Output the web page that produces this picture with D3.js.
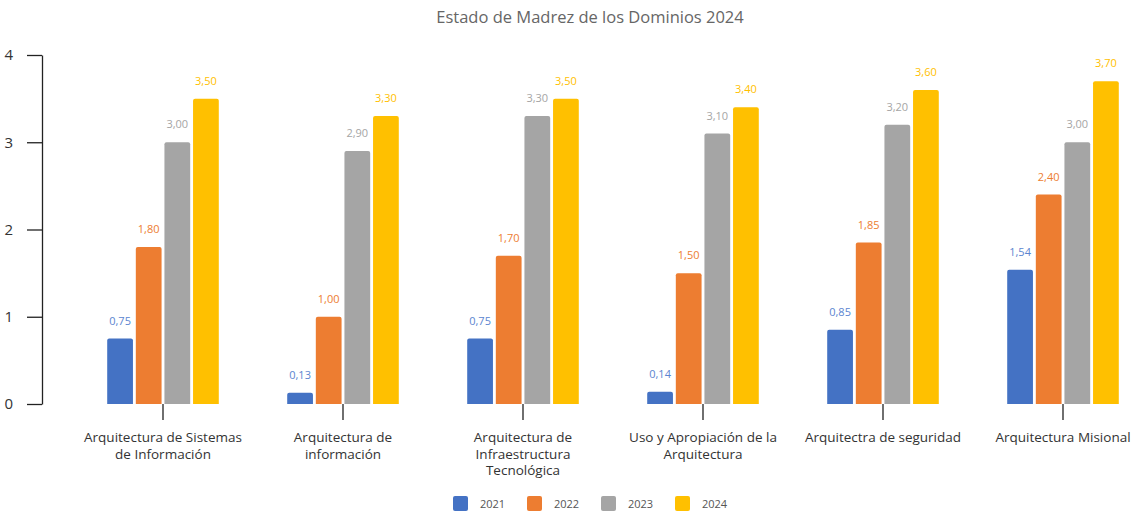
<!DOCTYPE html>
<html>
<head>
<meta charset="utf-8">
<script src="https://cdn.jsdelivr.net/npm/d3@7"></script>
<style>
  body { margin: 0; background: #fff; }
  svg { font-family: "Open Sans", "Noto Sans", sans-serif; }
</style>
</head>
<body>
<div id="chart"></div>
<script>
const categories = [
    ["Arquitectura de Sistemas", "de Información"],
    ["Arquitectura de", "información"],
    ["Arquitectura de", "Infraestructura", "Tecnológica"],
    ["Uso y Apropiación de la", "Arquitectura"],
    ["Arquitectra de seguridad"],
    ["Arquitectura Misional"]
];
const years = ["2021", "2022", "2023", "2024"];
const values2021 = [0.75, 0.13, 0.75, 0.14, 0.85, 1.54];
const values2022 = [1.80, 1.00, 1.70, 1.50, 1.85, 2.40];
const values2023 = [3.00, 2.90, 3.30, 3.10, 3.20, 3.00];
const values2024 = [3.50, 3.30, 3.50, 3.40, 3.60, 3.70];
const yTicks = [0, 1, 2, 3, 4];

const series = [values2021, values2022, values2023, values2024];
const colors = ["#4472C4", "#ED7D31", "#A5A5A5", "#FFC000"];
const labelColors = ["#5B85D0", "#ED7D31", "#A5A5A5", "#FFC000"];

const width = 1140, height = 513;
const catIds = categories.map((c, i) => i);

const svg = d3.select("#chart")
    .append("svg")
    .attr("width", width)
    .attr("height", height);

const x0 = d3.scaleBand()
    .domain(catIds)
    .range([73, 1153])
    .paddingInner(0.38)
    .paddingOuter(0.19);

const x1 = d3.scaleBand()
    .domain(years)
    .range([0, x0.bandwidth()])
    .paddingInner(0.1);

const y = d3.scaleLinear()
    .domain([0, 4])
    .range([404, 55]);

// title
svg.append("text")
    .attr("x", 590)
    .attr("y", 23)
    .attr("text-anchor", "middle")
    .attr("fill", "#666")
    .style("font-size", "16.5px")
    .text("Estado de Madrez de los Dominios 2024");

// y axis
const yAxis = svg.append("g")
    .attr("transform", "translate(42,0)")
    .call(d3.axisLeft(y).tickValues(yTicks).tickFormat(d3.format("d"))
        .tickSize(15).tickSizeOuter(0).tickPadding(14));
yAxis.select(".domain").attr("stroke", "#222").attr("stroke-width", 1.3);
yAxis.selectAll(".tick line").attr("stroke", "#222").attr("stroke-width", 1.3);
yAxis.selectAll(".tick text")
    .attr("fill", "#333")
    .style("font-size", "15px")
    .style("font-family", "'Open Sans', sans-serif");

// bars
const groups = svg.selectAll(".group")
    .data(catIds)
    .enter().append("g")
    .attr("class", "group")
    .attr("transform", d => "translate(" + x0(d) + ",0)");

years.forEach((yr, s) => {
    groups.append("path")
        .attr("fill", colors[s])
        .attr("d", d => {
            const bx = x1(yr), bw = x1.bandwidth();
            const top = y(series[s][d]), bottom = y(0), r = 2;
            return "M" + bx + "," + bottom +
                "V" + (top + r) +
                "Q" + bx + "," + top + " " + (bx + r) + "," + top +
                "H" + (bx + bw - r) +
                "Q" + (bx + bw) + "," + top + " " + (bx + bw) + "," + (top + r) +
                "V" + bottom + "Z";
        });

    groups.append("text")
        .attr("x", x1(yr) + x1.bandwidth() / 2)
        .attr("y", d => y(series[s][d]) - 14)
        .attr("text-anchor", "middle")
        .attr("fill", labelColors[s])
        .style("font-size", "11px")
        .text(d => series[s][d].toFixed(2).replace(".", ","));
});

// category ticks
svg.selectAll(".cat-tick")
    .data(catIds)
    .enter().append("line")
    .attr("x1", d => x0(d) + x0.bandwidth() / 2)
    .attr("x2", d => x0(d) + x0.bandwidth() / 2)
    .attr("y1", 404)
    .attr("y2", 420)
    .attr("stroke", "#222")
    .attr("stroke-width", 1.3);

// category labels
const catLabels = svg.selectAll(".cat-label")
    .data(catIds)
    .enter().append("text")
    .attr("text-anchor", "middle")
    .attr("fill", "#333")
    .style("font-size", "13.5px");

catLabels.each(function(d) {
    const cx = x0(d) + x0.bandwidth() / 2;
    d3.select(this).selectAll("tspan")
        .data(categories[d])
        .enter().append("tspan")
        .attr("x", cx)
        .attr("y", (t, i) => 442 + i * 16.5)
        .text(t => t);
});

// legend
const legend = svg.selectAll(".legend")
    .data(years)
    .enter().append("g")
    .attr("transform", (d, i) => "translate(" + (453 + i * 74) + ",496)");

legend.append("rect")
    .attr("width", 15)
    .attr("height", 15)
    .attr("rx", 2)
    .attr("fill", (d, i) => colors[i]);

legend.append("text")
    .attr("x", 27)
    .attr("y", 12)
    .attr("fill", "#555")
    .style("font-size", "11px")
    .text(d => d);
</script>
</body>
</html>
